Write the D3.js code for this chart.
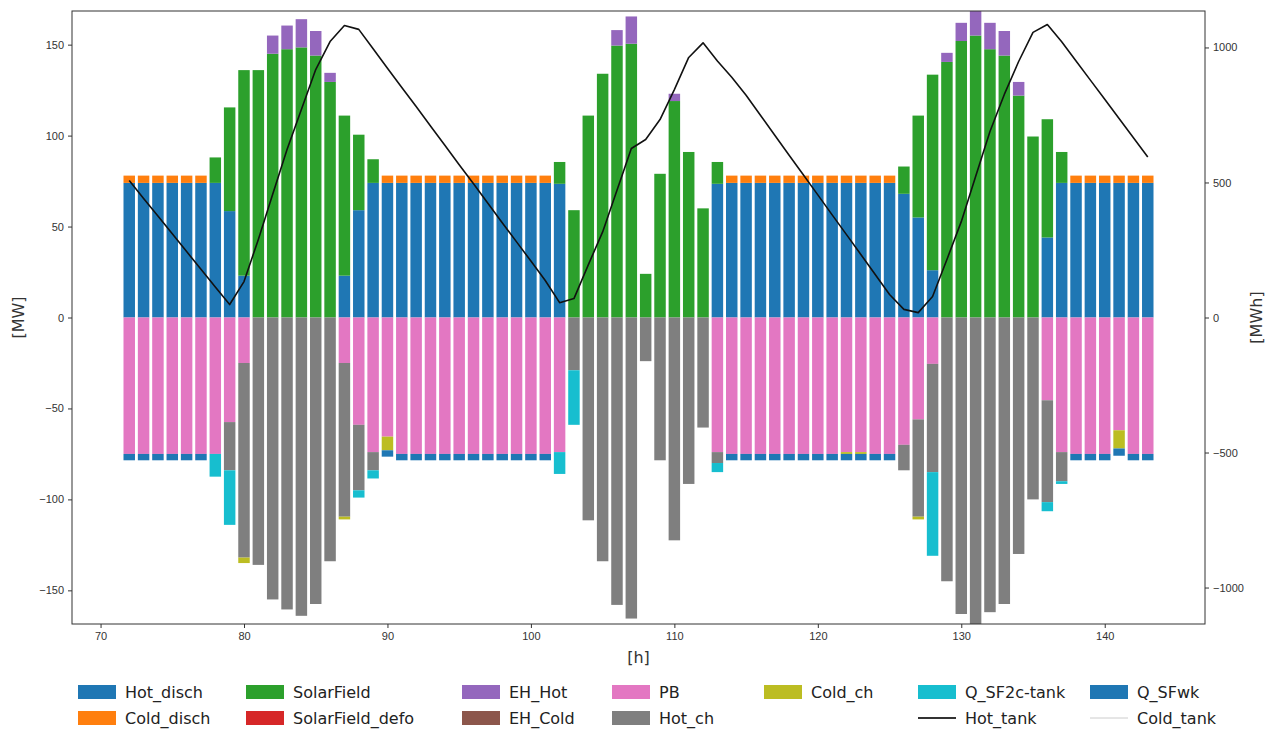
<!DOCTYPE html>
<html>
<head>
<meta charset="utf-8">
<script src="https://cdn.jsdelivr.net/npm/d3@7"></script>
<style>
  body { margin: 0; background: #fff; }
  svg { font-family: "DejaVu Sans", sans-serif; }
  .axis text { fill: #333; font-size: 11px; }
  .axis path, .axis line { stroke: #333; }
</style>
</head>
<body>
<svg id="chart" width="1283" height="735"></svg>
<script>
// hours 72..143
var hours = d3.range(72, 144);

var Hot_disch = [
  74,74,74,74,74,74, 74,58.5,23,0,0,0,
  0,0,0,23,59,74, 74,74,74,74,74,74,
  74,74,74,74,74,74, 73.5,0,0,0,0,0,
  0,0,0,0,0,73.5, 74,74,74,74,74,74,
  74,74,74,74,74,74, 68,55,26,0,0,0,
  0,0,0,0,44,74, 74,74,74,74,74,74];
var Cold_disch = [
  4,4,4,4,4,4, 0,0,0,0,0,0,
  0,0,0,0,0,0, 4,4,4,4,4,4,
  4,4,4,4,4,4, 0,0,0,0,0,0,
  0,0,0,0,0,0, 4,4,4,4,4,4,
  4,4,4,4,4,4, 0,0,0,0,0,0,
  0,0,0,0,0,0, 4,4,4,4,4,4];
var SolarField = [
  0,0,0,0,0,0, 14,57,113,136,145,147.5,
  148.5,144,129.5,88,41.5,13, 0,0,0,0,0,0,
  0,0,0,0,0,0, 12,59,111,134,149.5,150.5,
  24,79,119,91,60,12, 0,0,0,0,0,0,
  0,0,0,0,0,0, 15,56,107.5,140.5,152,155,
  147.5,144,122,99.5,65,17, 0,0,0,0,0,0];
var SolarField_defo = hours.map(function() { return 0; });
var EH_Hot = [
  0,0,0,0,0,0, 0,0,0,0,10,13,
  15.5,13.5,5,0,0,0, 0,0,0,0,0,0,
  0,0,0,0,0,0, 0,0,0,0,8.5,15,
  0,0,4,0,0,0, 0,0,0,0,0,0,
  0,0,0,0,0,0, 0,0,0,5,10,17,
  14.5,13.5,7.5,0,0,0, 0,0,0,0,0,0];
var EH_Cold = hours.map(function() { return 0; });
var PB = [
  -75,-75,-75,-75,-75,-75, -75,-57.5,-25,0,0,0,
  0,0,0,-25,-59,-74, -65.5,-75,-75,-75,-75,-75,
  -75,-75,-75,-75,-75,-75, -74,0,0,0,0,0,
  0,0,0,0,0,-74, -75,-75,-75,-75,-75,-75,
  -75,-75,-74,-74,-75,-75, -70,-56,-25.5,0,0,0,
  0,0,0,0,-45.5,-74, -75,-75,-75,-62,-75,-75];
var Hot_ch = [
  0,0,0,0,0,0, 0,-26.5,-107,-136,-155,-160.5,
  -164,-157.5,-134,-84.5,-36,-10, 0,0,0,0,0,0,
  0,0,0,0,0,0, 0,-29,-111.5,-134,-158,-165.5,
  -24,-78.5,-122.5,-91.5,-60.5,-6, 0,0,0,0,0,0,
  0,0,0,0,0,0, -14,-53.5,-59.5,-145,-163,-172,
  -162,-157.5,-130,-100,-56,-16, 0,0,0,0,0,0];
var Cold_ch = [
  0,0,0,0,0,0, 0,0,-3,0,0,0,
  0,0,0,-1.5,0,0, -7.5,0,0,0,0,0,
  0,0,0,0,0,0, 0,0,0,0,0,0,
  0,0,0,0,0,0, 0,0,0,0,0,0,
  0,0,-1,-1,0,0, 0,-1.5,0,0,0,0,
  0,0,0,0,0,0, 0,0,0,-10,0,0];
var Q_SF2c_tank = [
  0,0,0,0,0,0, -12.5,-30,0,0,0,0,
  0,0,0,0,-4,-4.5, 0,0,0,0,0,0,
  0,0,0,0,0,0, -12,-30,0,0,0,0,
  0,0,0,0,0,-5, 0,0,0,0,0,0,
  0,0,0,0,0,0, 0,0,-46,0,0,0,
  0,0,0,0,-5,-1.5, 0,0,0,0,0,0];
var Q_SFwk = [
  -3.5,-3.5,-3.5,-3.5,-3.5,-3.5, 0,0,0,0,0,0,
  0,0,0,0,0,0, -3.5,-3.5,-3.5,-3.5,-3.5,-3.5,
  -3.5,-3.5,-3.5,-3.5,-3.5,-3.5, 0,0,0,0,0,0,
  0,0,0,0,0,0, -3.5,-3.5,-3.5,-3.5,-3.5,-3.5,
  -3.5,-3.5,-3.5,-3.5,-3.5,-3.5, 0,0,0,0,0,0,
  0,0,0,0,0,0, -3.5,-3.5,-3.5,-4,-3.5,-3.5];
// stored energy in the hot tank [MWh], right axis
var Hot_tank = [
  507,441,376,310,244,179, 113,48,133,289,456,622,
  770,918,1022,1081,1067,995, 923,852,781,709,638,566,
  495,423,351,280,209,137, 55,70,195,317,471,626,
  659,733,844,963,1017,950, 890,823,749,675,601,528,
  454,380,307,233,159,85, 30,18,78,215,355,522,
  689,826,948,1056,1085,1021, 950,879,808,737,666,594];

var barKeys = ["Hot_disch","Cold_disch","SolarField","SolarField_defo","EH_Hot","EH_Cold",
               "PB","Hot_ch","Cold_ch","Q_SF2c-tank","Q_SFwk"];
var barSeries = [Hot_disch, Cold_disch, SolarField, SolarField_defo, EH_Hot, EH_Cold,
                 PB, Hot_ch, Cold_ch, Q_SF2c_tank, Q_SFwk];
var barColors = ["#1f77b4","#ff7f0e","#2ca02c","#d62728","#9467bd","#8c564b",
                 "#e377c2","#7f7f7f","#bcbd22","#17becf","#1f77b4"];

var mwTicks = [-150,-100,-50,0,50,100,150];
var mwhTicks = [-1000,-500,0,500,1000];
var hourTicks = [70,80,90,100,110,120,130,140];

function drawChart() {
    // plot box
    var pl = 72, pr = 1205, pt = 11, pb = 624;
    var svg = d3.select("#chart");

    var x = d3.scaleLinear().domain([68.01, 146.99]).range([pl, pr]);
    var y = d3.scaleLinear().domain([-168.5, 168.5]).range([pb, pt]);
    var y2 = d3.scaleLinear().domain([-1135, 1135]).range([pb, pt]);
    var barW = x(0.8) - x(0);

    // build table for the stack
    var table = hours.map(function(h, i) {
        var row = { hour: h };
        barKeys.forEach(function(k, j) { row[k] = barSeries[j][i]; });
        return row;
    });

    var stacked = d3.stack()
        .keys(barKeys)
        .offset(d3.stackOffsetDiverging)(table);

    svg.append("clipPath").attr("id", "plotclip")
      .append("rect")
        .attr("x", pl).attr("y", pt)
        .attr("width", pr - pl).attr("height", pb - pt);

    var plot = svg.append("g").attr("clip-path", "url(#plotclip)");

    plot.selectAll("g.layer")
        .data(stacked)
      .enter().append("g")
        .attr("class", "layer")
        .attr("fill", function(d, i) { return barColors[i]; })
      .selectAll("rect")
        .data(function(d) { return d.filter(function(p) { return p[1] !== p[0]; }); })
      .enter().append("rect")
        .attr("x", function(d) { return x(d.data.hour) - barW / 2; })
        .attr("width", barW)
        .attr("y", function(d) { return y(Math.max(d[0], d[1])); })
        .attr("height", function(d) { return Math.abs(y(d[0]) - y(d[1])); });

    // hot tank line on the right axis
    var line = d3.line()
        .x(function(d, i) { return x(hours[i]); })
        .y(function(d) { return y2(d); });

    plot.append("path")
        .datum(Hot_tank)
        .attr("fill", "none")
        .attr("stroke", "#111")
        .attr("stroke-width", 1.6)
        .attr("stroke-linejoin", "round")
        .attr("d", line);

    // axes
    svg.append("g")
        .attr("class", "axis")
        .attr("transform", "translate(0," + pb + ")")
        .call(d3.axisBottom(x).tickValues(hourTicks).tickSize(4).tickPadding(4).tickFormat(d3.format("d")));

    svg.append("g")
        .attr("class", "axis")
        .attr("transform", "translate(" + pl + ",0)")
        .call(d3.axisLeft(y).tickValues(mwTicks).tickSize(4).tickPadding(4).tickFormat(d3.format("d")));

    svg.append("g")
        .attr("class", "axis")
        .attr("transform", "translate(" + pr + ",0)")
        .call(d3.axisRight(y2).tickValues(mwhTicks).tickSize(4).tickPadding(4).tickFormat(d3.format("d")));

    svg.selectAll(".axis .domain").remove();

    // frame
    svg.append("rect")
        .attr("x", pl).attr("y", pt)
        .attr("width", pr - pl).attr("height", pb - pt)
        .attr("fill", "none")
        .attr("stroke", "#333")
        .attr("stroke-width", 1);

    // axis labels
    svg.append("text")
        .attr("transform", "translate(24," + ((pt + pb) / 2) + ") rotate(-90)")
        .attr("text-anchor", "middle")
        .attr("font-size", 16).attr("fill", "#333")
        .text("[MW]");

    svg.append("text")
        .attr("transform", "translate(1262," + ((pt + pb) / 2) + ") rotate(-90)")
        .attr("text-anchor", "middle")
        .attr("font-size", 16).attr("fill", "#333")
        .text("[MWh]");

    svg.append("text")
        .attr("x", (pl + pr) / 2).attr("y", 663)
        .attr("text-anchor", "middle")
        .attr("font-size", 16).attr("fill", "#333")
        .text("[h]");

    // legend: bar series then the two tank lines
    var legendItems = barKeys.map(function(k, i) { return { name: k, color: barColors[i], kind: "bar" }; })
        .concat([{ name: "Hot_tank", color: "#333", kind: "line" },
                 { name: "Cold_tank", color: "#ccc", kind: "line" }]);
    // column/row slot for each entry, same order as legendItems
    var slots = [[0,0],[0,1],[1,0],[1,1],[2,0],[2,1],[3,0],[3,1],[4,0],[5,0],[6,0],[5,1],[6,1]];
    var colX = [78, 246, 462, 612, 764, 918, 1090];
    var rowY = [692, 718];

    var leg = svg.append("g").selectAll("g")
        .data(legendItems)
      .enter().append("g")
        .attr("transform", function(d, i) {
            return "translate(" + colX[slots[i][0]] + "," + rowY[slots[i][1]] + ")";
        });

    leg.filter(function(d) { return d.kind === "bar"; })
      .append("rect")
        .attr("x", 0).attr("y", -7)
        .attr("width", 38).attr("height", 14)
        .attr("fill", function(d) { return d.color; });

    leg.filter(function(d) { return d.kind === "line"; })
      .append("line")
        .attr("x1", 0).attr("x2", 38)
        .attr("stroke", function(d) { return d.color; })
        .attr("stroke-width", function(d) { return d.name === "Hot_tank" ? 2 : 1; });

    leg.append("text")
        .attr("x", 47).attr("dy", "0.35em")
        .attr("font-size", 16).attr("fill", "#222")
        .text(function(d) { return d.name; });
}

drawChart();
</script>
</body>
</html>
